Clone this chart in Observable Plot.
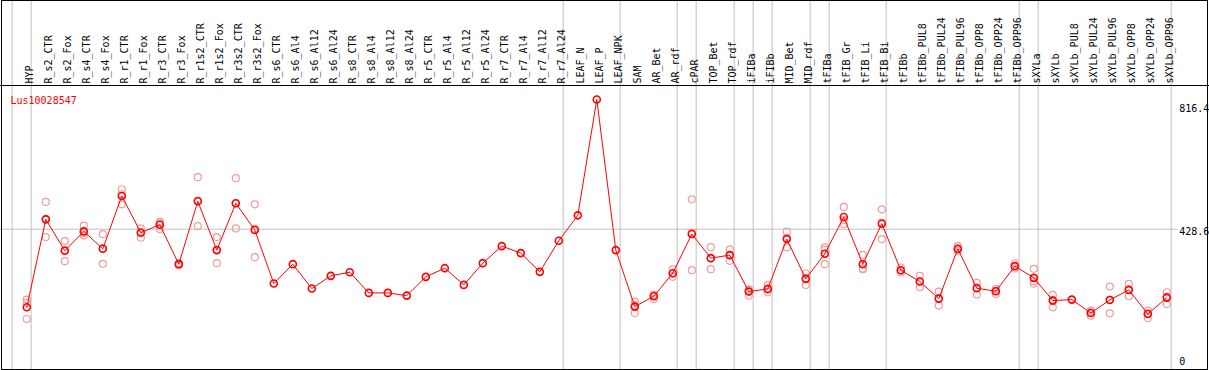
<!DOCTYPE html>
<html><head><meta charset="utf-8">
<script src="https://cdn.jsdelivr.net/npm/d3@7"></script>
<script src="https://cdn.jsdelivr.net/npm/@observablehq/plot@0.6"></script>
<style>body{margin:0;background:#fff} svg{display:block}</style>
</head><body><div id="chart"></div>
<script>
const geneId = "Lus10028547";
const categories = ["HYP","R_s2_CTR","R_s2_Fox","R_s4_CTR","R_s4_Fox","R_r1_CTR","R_r1_Fox","R_r3_CTR","R_r3_Fox","R_r1s2_CTR","R_r1s2_Fox","R_r3s2_CTR","R_r3s2_Fox","R_s6_CTR","R_s6_Al4","R_s6_Al12","R_s6_Al24","R_s8_CTR","R_s8_Al4","R_s8_Al12","R_s8_Al24","R_r5_CTR","R_r5_Al4","R_r5_Al12","R_r5_Al24","R_r7_CTR","R_r7_Al4","R_r7_Al12","R_r7_Al24","LEAF_N","LEAF_P","LEAF_NPK","SAM","AR_Bet","AR_rdf","cPAR","TOP_Bet","TOP_rdf","iFIBa","iFIBb","MID_Bet","MID_rdf","tFIBa","tFIB_Gr","tFIB_Li","tFIB_Bi","tFIBb","tFIBb_PUL8","tFIBb_PUL24","tFIBb_PUL96","tFIBb_OPP8","tFIBb_OPP24","tFIBb_OPP96","sXYLa","sXYLb","sXYLb_PUL8","sXYLb_PUL24","sXYLb_PUL96","sXYLb_OPP8","sXYLb_OPP24","sXYLb_OPP96"];
const means = [195,458,364,422,370,528,418,442,324,512,366,506,426,266,324,251,289,300,238,238,230,286,312,262,327,378,357,301,394,470,816.4,366,197,228,297,414,342,351,242,250,399,280,355,465,324,445,306,272,221,370,252,243,318,283,215,218,178,217,247,175,224];
const rep1 = [218,510,393,439,414,548,431,451,320,584,405,581,503,null,null,null,null,null,null,null,null,null,null,null,null,null,null,null,null,null,null,null,212,233,309,518,375,368,249,262,421,296,374,495,352,488,314,289,242,378,268,250,326,310,232,null,185,257,265,185,240];
const rep2 = [208,405,333,410,325,503,403,429,326,438,327,431,345,null,null,null,null,null,null,null,null,null,null,null,null,null,null,null,null,null,null,null,178,220,286,306,309,334,230,240,374,262,367,444,309,399,299,255,200,364,233,235,311,266,195,null,170,177,228,163,205];
const rep3 = [160,459,366,417,371,533,420,446,326,514,366,506,430,null,null,null,null,null,null,null,null,null,null,null,null,null,null,null,null,null,null,null,201,231,296,418,342,351,247,248,402,282,324,456,311,448,305,272,221,368,255,244,317,273,218,null,179,217,248,177,227];
const groupBreaks = [-1,0,28,31,34,35,37,38,39,41,42,45,52,53,60];
const axisTicks = [816.4, 428.6, 0];

const meanData = categories.map((c, i) => ({i, c, v: means[i]}));
const repData = [];
[rep1, rep2, rep3].forEach(r => r.forEach((v, i) => { if (v != null) repData.push({i, v}); }));

const W = 1209, H = 370;
const font = "DejaVu Sans Mono";

const chrome = () => {
  const g = d3.create("svg:g");
  g.append("line").attr("x1", 0).attr("x2", W).attr("y1", 85.5).attr("y2", 85.5).attr("stroke", "black");
  g.append("rect").attr("x", 1.5).attr("y", 0.5).attr("width", 1206).attr("height", 369)
    .attr("fill", "none").attr("stroke", "black");
  return g.node();
};

const chart = Plot.plot({
  width: W, height: H, margin: 0,
  style: {fontFamily: font, fontSize: "10px", background: "#fff", color: "black"},
  x: {type: "linear", domain: [0, categories.length - 1], range: [26.3, 1166.3], axis: null},
  y: {domain: [axisTicks[2], axisTicks[0]], range: [372, 99], axis: null},
  marks: [
    Plot.ruleX(groupBreaks, {x: d => d + 0.23, stroke: "#c0c0c0"}),
    Plot.ruleY([axisTicks[1]], {x1: -1.4, x2: 60.6, stroke: "#c0c0c0"}),
    chrome,
    Plot.text(categories, {x: (d, i) => i, text: d => d, frameAnchor: "top", dy: 83, dx: -1.2, rotate: -90, textAnchor: "start", fill: "black"}),
    Plot.text([geneId], {text: d => d, frameAnchor: "top-left", dx: 10, dy: 96, textAnchor: "start", fill: "red"}),
    Plot.text([axisTicks[0]], {y: d => d, text: d => String(d), frameAnchor: "right", dx: -30.3, dy: 9.3, textAnchor: "start", fill: "black"}),
    Plot.text([axisTicks[1]], {y: d => d, text: d => String(d), frameAnchor: "right", dx: -30.3, dy: 3, textAnchor: "start", fill: "black"}),
    Plot.text([axisTicks[2]], {y: d => d, text: d => String(d), frameAnchor: "right", dx: -30.3, dy: -10.3, textAnchor: "start", fill: "black"}),
    Plot.dot(repData, {x: "i", y: "v", r: 3.5, stroke: "#f09c9c", strokeWidth: 1.2, fill: "none"}),
    Plot.line(meanData, {x: "i", y: "v", stroke: "red", strokeWidth: 1}),
    Plot.dot(meanData, {x: "i", y: "v", r: 3.5, stroke: "red", strokeWidth: 1.6, fill: "none"})
  ]
});
document.getElementById("chart").append(chart);
</script>
</body></html>
